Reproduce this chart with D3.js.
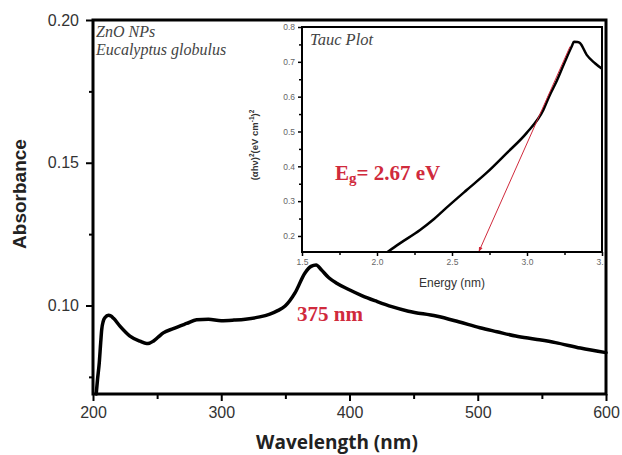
<!DOCTYPE html>
<html>
<head>
<meta charset="utf-8">
<script src="https://cdn.jsdelivr.net/npm/d3@7"></script>
<style>
  body { margin: 0; background: #fff; }
  svg { display: block; }
</style>
</head>
<body>
<div class="chart"></div>
<script>
// main spectrum
var wavelength = [202.5, 203.5, 204.9, 206, 206.8, 208, 209.4, 212, 214, 216, 221, 228.8, 236.6, 241.8, 244, 247, 251, 254.8, 262.6, 273, 280.8, 290, 300, 310, 318.8, 330, 337.4, 344, 349.8, 357.5, 365.3, 370, 374, 378, 383.9, 390, 399.4, 410, 421, 433, 445.9, 467.6, 485, 501.7, 515, 529.6, 545, 560.6, 580, 600];
var absorbance = [0.069, 0.074, 0.080, 0.087, 0.0916, 0.0945, 0.0958, 0.0966, 0.0963, 0.0955, 0.0928, 0.0893, 0.0875, 0.0867, 0.0868, 0.0875, 0.0890, 0.0904, 0.0919, 0.0937, 0.0950, 0.0952, 0.0947, 0.0949, 0.0952, 0.0960, 0.0969, 0.0982, 0.0998, 0.1044, 0.1114, 0.1137, 0.1142, 0.1125, 0.1097, 0.1078, 0.1056, 0.1034, 0.1015, 0.0996, 0.0980, 0.0963, 0.0943, 0.0922, 0.0908, 0.0893, 0.0882, 0.0870, 0.0851, 0.0835];

// tauc inset
var energy = [2.07, 2.15, 2.287, 2.37, 2.46, 2.598, 2.73, 2.865, 2.998, 3.109, 3.15, 3.198, 3.264, 3.30, 3.313, 3.335, 3.353, 3.398, 3.453, 3.5];
var tauc = [0.154, 0.178, 0.217, 0.245, 0.28, 0.332, 0.381, 0.438, 0.496, 0.562, 0.603, 0.645, 0.712, 0.746, 0.758, 0.757, 0.754, 0.72, 0.696, 0.68];
var tangentE = [3.287, 2.68];
var tangentV = [0.744, 0.156];

var mainXTicks = [200, 300, 400, 500, 600];
var mainXMinor = [250, 350, 450, 550];
var mainYTicks = [0.10, 0.15, 0.20];
var mainYMinor = [0.075, 0.125, 0.175];
var insetXTicks = [1.5, 2.0, 2.5, 3.0, 3.5];
var insetXMinor = [1.75, 2.25, 2.75, 3.25];
var insetYTicks = [0.2, 0.3, 0.4, 0.5, 0.6, 0.7, 0.8];
var insetYMinor = [0.25, 0.35, 0.45, 0.55, 0.65, 0.75];

var width = 622, height = 455;
var red = "#d02a3c";

var svg = d3.select(".chart")
  .append("svg")
  .attr("width", width)
  .attr("height", height);

svg.append("defs").append("marker")
  .attr("id", "arrow")
  .attr("viewBox", "0 0 10 10")
  .attr("refX", 9).attr("refY", 5)
  .attr("markerWidth", 5).attr("markerHeight", 5)
  .attr("orient", "auto")
  .append("path")
  .attr("d", "M0,1 L10,5 L0,9 z")
  .attr("fill", red);

svg.select("defs").append("clipPath")
  .attr("id", "insetclip")
  .append("rect")
  .attr("x", 230).attr("y", 0).attr("width", 374).attr("height", 300);

var x = d3.scaleLinear().domain([200, 600]).range([93, 606]);
var y = d3.scaleLinear().domain([0.069, 0.20]).range([394, 20]);

var xAxis = g => g
  .attr("transform", "translate(0,394)")
  .call(d3.axisBottom(x).tickValues(mainXTicks).tickSize(7).tickPadding(6).tickFormat(d3.format("d")))
  .call(g => g.selectAll("text").attr("font-size", 16).attr("fill", "#333").attr("font-family", "Liberation Sans, Arial, sans-serif"));

var yAxis = g => g
  .attr("transform", "translate(93,0)")
  .call(d3.axisLeft(y).tickValues(mainYTicks).tickSize(7).tickPadding(7).tickFormat(d3.format(".2f")))
  .call(g => g.selectAll("text").attr("font-size", 16).attr("fill", "#333").attr("font-family", "Liberation Sans, Arial, sans-serif"));

svg.append("g").call(xAxis).call(g => g.select(".domain").remove())
  .call(g => g.selectAll("line").attr("stroke-width", 2));
svg.append("g").call(yAxis).call(g => g.select(".domain").remove())
  .call(g => g.selectAll("line").attr("stroke-width", 2));

svg.append("g").attr("transform", "translate(0,394)")
  .call(d3.axisBottom(x).tickValues(mainXMinor).tickSize(5).tickFormat(""))
  .call(g => g.select(".domain").remove())
  .call(g => g.selectAll("line").attr("stroke-width", 2));
svg.append("g").attr("transform", "translate(93,0)")
  .call(d3.axisLeft(y).tickValues(mainYMinor).tickSize(4).tickFormat(""))
  .call(g => g.select(".domain").remove())
  .call(g => g.selectAll("line").attr("stroke-width", 2));

var mainData = wavelength.map((w, i) => ({ w: w, a: absorbance[i] }));

svg.append("path")
  .datum(mainData)
  .attr("fill", "none")
  .attr("stroke", "#000")
  .attr("stroke-width", 3.5)
  .attr("stroke-linejoin", "round")
  .attr("stroke-linecap", "round")
  .attr("d", d3.line().curve(d3.curveMonotoneX)
    .x(d => x(d.w))
    .y(d => y(d.a)));

// frame
svg.append("rect")
  .attr("x", x(200)).attr("y", y(0.20))
  .attr("width", x(600) - x(200)).attr("height", y(0.069) - y(0.20))
  .attr("fill", "none").attr("stroke", "#000").attr("stroke-width", 3);

svg.append("text")
  .attr("x", 96).attr("y", 37)
  .attr("font-family", "Liberation Serif, Times New Roman, serif")
  .attr("font-style", "italic").attr("font-size", 16).attr("fill", "#444")
  .text("ZnO NPs");
svg.append("text")
  .attr("x", 96).attr("y", 55)
  .attr("font-family", "Liberation Serif, Times New Roman, serif")
  .attr("font-style", "italic").attr("font-size", 16).attr("fill", "#444")
  .text("Eucalyptus globulus");

svg.append("text")
  .attr("x", 297).attr("y", 321)
  .attr("font-family", "Liberation Serif, Times New Roman, serif")
  .attr("font-weight", "bold").attr("font-size", 21).attr("fill", red)
  .text("375 nm");

svg.append("text")
  .attr("transform", "translate(26,194) rotate(-90)")
  .attr("text-anchor", "middle")
  .attr("font-family", "Liberation Sans, Arial, sans-serif")
  .attr("font-weight", "bold").attr("font-size", 19).attr("fill", "#222")
  .text("Absorbance");

svg.append("text")
  .attr("x", 337).attr("y", 449)
  .attr("text-anchor", "middle")
  .attr("font-family", "Open Sans, sans-serif")
  .attr("font-weight", "bold").attr("font-size", 19).attr("fill", "#222")
  .text("Wavelength (nm)");

// inset
var ix = d3.scaleLinear().domain([1.5, 3.5]).range([302, 602]);
var iy = d3.scaleLinear().domain([0.154, 0.8]).range([252, 27]);

var inset = svg.append("g");

inset.append("rect")
  .attr("x", ix(1.5)).attr("y", iy(0.8))
  .attr("width", ix(3.5) - ix(1.5)).attr("height", iy(0.154) - iy(0.8))
  .attr("fill", "#fff");

var labels = inset.append("g").attr("clip-path", "url(#insetclip)");

labels.append("g").attr("transform", "translate(0,252)")
  .call(d3.axisBottom(ix).tickValues(insetXTicks).tickSize(4).tickPadding(3).tickFormat(d3.format(".1f")))
  .call(g => g.select(".domain").remove())
  .call(g => g.selectAll("line").attr("stroke-width", 1.5))
  .call(g => g.selectAll("text").attr("font-size", 8.5).attr("fill", "#666").attr("font-family", "Liberation Sans, Arial, sans-serif"));
labels.append("g").attr("transform", "translate(0,252)")
  .call(d3.axisBottom(ix).tickValues(insetXMinor).tickSize(3).tickFormat(""))
  .call(g => g.select(".domain").remove())
  .call(g => g.selectAll("line").attr("stroke-width", 1.5));

labels.append("g").attr("transform", "translate(302,0)")
  .call(d3.axisLeft(iy).tickValues(insetYTicks).tickSize(4).tickPadding(3).tickFormat(d3.format(".1f")))
  .call(g => g.select(".domain").remove())
  .call(g => g.selectAll("line").attr("stroke-width", 1.5))
  .call(g => g.selectAll("text").attr("font-size", 8.5).attr("fill", "#666").attr("font-family", "Liberation Sans, Arial, sans-serif"));
labels.append("g").attr("transform", "translate(302,0)")
  .call(d3.axisLeft(iy).tickValues(insetYMinor).tickSize(3).tickFormat(""))
  .call(g => g.select(".domain").remove())
  .call(g => g.selectAll("line").attr("stroke-width", 1.5));

var taucData = energy.map((e, i) => ({ e: e, v: tauc[i] }));

inset.append("path")
  .datum(taucData)
  .attr("fill", "none")
  .attr("stroke", "#000")
  .attr("stroke-width", 2.5)
  .attr("stroke-linejoin", "round")
  .attr("d", d3.line().curve(d3.curveMonotoneX)
    .x(d => ix(d.e))
    .y(d => iy(d.v)));

var tangentData = tangentE.map((e, i) => ({ e: e, v: tangentV[i] }));

inset.append("path")
  .datum(tangentData)
  .attr("fill", "none")
  .attr("stroke", red)
  .attr("stroke-width", 1)
  .attr("marker-end", "url(#arrow)")
  .attr("d", d3.line()
    .x(d => ix(d.e))
    .y(d => iy(d.v)));

inset.append("rect")
  .attr("x", ix(1.5)).attr("y", iy(0.8))
  .attr("width", ix(3.5) - ix(1.5)).attr("height", iy(0.154) - iy(0.8))
  .attr("fill", "none").attr("stroke", "#000").attr("stroke-width", 2);

inset.append("text")
  .attr("x", 310).attr("y", 45)
  .attr("font-family", "Liberation Serif, Times New Roman, serif")
  .attr("font-style", "italic").attr("font-size", 16.5).attr("fill", "#444")
  .text("Tauc Plot");

var eg = inset.append("text")
  .attr("x", 335).attr("y", 180)
  .attr("font-family", "Liberation Serif, Times New Roman, serif")
  .attr("font-weight", "bold").attr("font-size", 21).attr("fill", red);
eg.append("tspan").text("E");
eg.append("tspan").attr("font-size", 15).attr("dy", 3).text("g");
eg.append("tspan").attr("dy", -3).text("= 2.67 eV");

inset.append("text")
  .attr("x", 452).attr("y", 287)
  .attr("text-anchor", "middle")
  .attr("font-family", "Liberation Sans, Arial, sans-serif")
  .attr("font-size", 12).attr("fill", "#333")
  .text("Energy (nm)");

var yl = inset.append("text")
  .attr("transform", "translate(258,145) rotate(-90)")
  .attr("text-anchor", "middle")
  .attr("font-family", "Liberation Sans, Arial, sans-serif")
  .attr("font-weight", "bold").attr("font-size", 9.5).attr("fill", "#333");
yl.append("tspan").text("(\u03b1h\u03bd)");
yl.append("tspan").attr("font-size", 6.5).attr("dy", -4).text("2");
yl.append("tspan").attr("dy", 4).text("(eV cm");
yl.append("tspan").attr("font-size", 6.5).attr("dy", -4).text("-1");
yl.append("tspan").attr("dy", 4).text(")");
yl.append("tspan").attr("font-size", 6.5).attr("dy", -4).text("2");
</script>
</body>
</html>
